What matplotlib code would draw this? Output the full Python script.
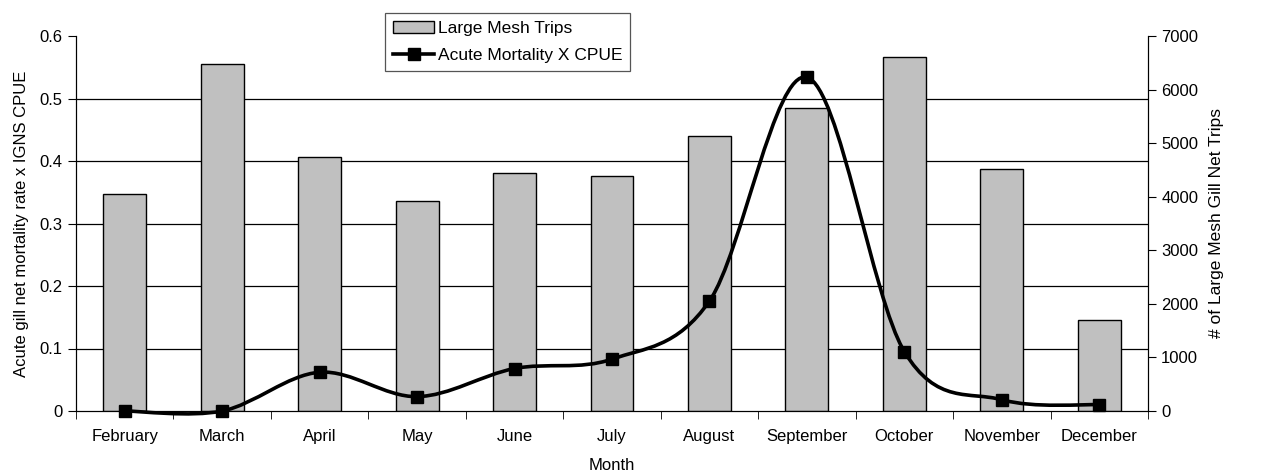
import numpy as np
import matplotlib
matplotlib.use('Agg')
import matplotlib.pyplot as plt
from matplotlib.path import Path
from matplotlib.patches import PathPatch, Patch
from matplotlib.lines import Line2D

plt.rcParams['font.family'] = ['Liberation Sans', 'DejaVu Sans']

months = ['February', 'March', 'April', 'May', 'June', 'July',
          'August', 'September', 'October', 'November', 'December']
trips = [4050, 6470, 4740, 3920, 4450, 4380, 5130, 5650, 6600, 4520, 1690]
mortality = [0.0, 0.0, 0.062, 0.023, 0.068, 0.083, 0.176, 0.534, 0.095, 0.018, 0.010]

fs = 12
fig = plt.figure(figsize=(12.85, 4.74), dpi=100)
ax1 = fig.add_axes([76 / 1285, 63 / 474, (1148 - 76) / 1285, (411 - 36) / 474])
ax2 = ax1.twinx()
x = np.arange(len(months))

# bars on the bottom axes, right-hand scale
ax1.bar(x, trips, width=0.44, color='#c0c0c0', edgecolor='black', linewidth=1.0, zorder=3)
ax1.set_xlim(-0.5, len(months) - 0.5)
ax1.set_ylim(0, 7000)
ax1.yaxis.tick_right()
ax1.yaxis.set_label_position('right')
ax1.set_yticks(np.arange(0, 7001, 1000))
ax1.set_yticks(np.arange(7) * 7000 / 6, minor=True)
ax1.tick_params(axis='y', which='minor', length=0)
ax1.grid(axis='y', which='minor', color='black', linewidth=0.9, zorder=0)
ax1.set_axisbelow(True)
ax1.set_ylabel('# of Large Mesh Gill Net Trips', fontsize=12.5, labelpad=8)
ax1.set_xticks(x)
ax1.set_xticklabels(months, fontsize=fs)
ax1.set_xticks(np.arange(len(months) + 1) - 0.5, minor=True)
ax1.tick_params(axis='x', which='major', length=0, pad=13)
ax1.tick_params(axis='x', which='minor', length=6, direction='out')
ax1.tick_params(axis='y', which='major', length=6, labelsize=fs)
ax1.set_xlabel('Month', fontsize=fs, labelpad=10)
ax1.spines['top'].set_visible(False)

# smoothed line on the top axes, left-hand scale
ax2.yaxis.tick_left()
ax2.yaxis.set_label_position('left')
ax2.set_ylim(0, 0.6)
ax2.set_yticks(np.arange(0, 0.61, 0.1))
ax2.set_yticklabels(['0', '0.1', '0.2', '0.3', '0.4', '0.5', '0.6'])
ax2.tick_params(axis='y', length=6, labelsize=fs)
ax2.set_ylabel('Acute gill net mortality rate x IGNS CPUE', fontsize=fs, labelpad=8)
ax2.spines['top'].set_visible(False)

pts = np.column_stack([x, mortality]).astype(float)
n = len(pts)
verts = [tuple(pts[0])]
codes = [Path.MOVETO]
for i in range(n - 1):
    p0 = pts[i - 1] if i > 0 else pts[i]
    p1 = pts[i]
    p2 = pts[i + 1]
    p3 = pts[i + 2] if i + 2 < n else pts[i + 1]
    c1 = p1 + (p2 - p0) / 6
    c2 = p2 - (p3 - p1) / 6
    verts += [tuple(c1), tuple(c2), tuple(p2)]
    codes += [Path.CURVE4] * 3
ax2.add_patch(PathPatch(Path(verts, codes), facecolor='none', edgecolor='black',
                        linewidth=2.6, zorder=4, clip_on=False))
ax2.plot(x, mortality, linestyle='none', marker='s', markersize=9,
         color='black', zorder=5, clip_on=False)

handles = [Patch(facecolor='#c0c0c0', edgecolor='black', linewidth=1.0),
           Line2D([], [], color='black', linewidth=2.6, marker='s', markersize=9)]
leg = fig.legend(handles, ['Large Mesh Trips', 'Acute Mortality X CPUE'],
                 loc='upper left', bbox_to_anchor=(385 / 1285, 1 - 13 / 474),
                 fontsize=12.5, fancybox=False, framealpha=1, edgecolor='#555555',
                 borderpad=0.45, handlelength=2.4, handletextpad=0.2, labelspacing=0.7,
                 borderaxespad=0)
leg.get_frame().set_linewidth(0.9)

fig.savefig('out.png', dpi=100)
